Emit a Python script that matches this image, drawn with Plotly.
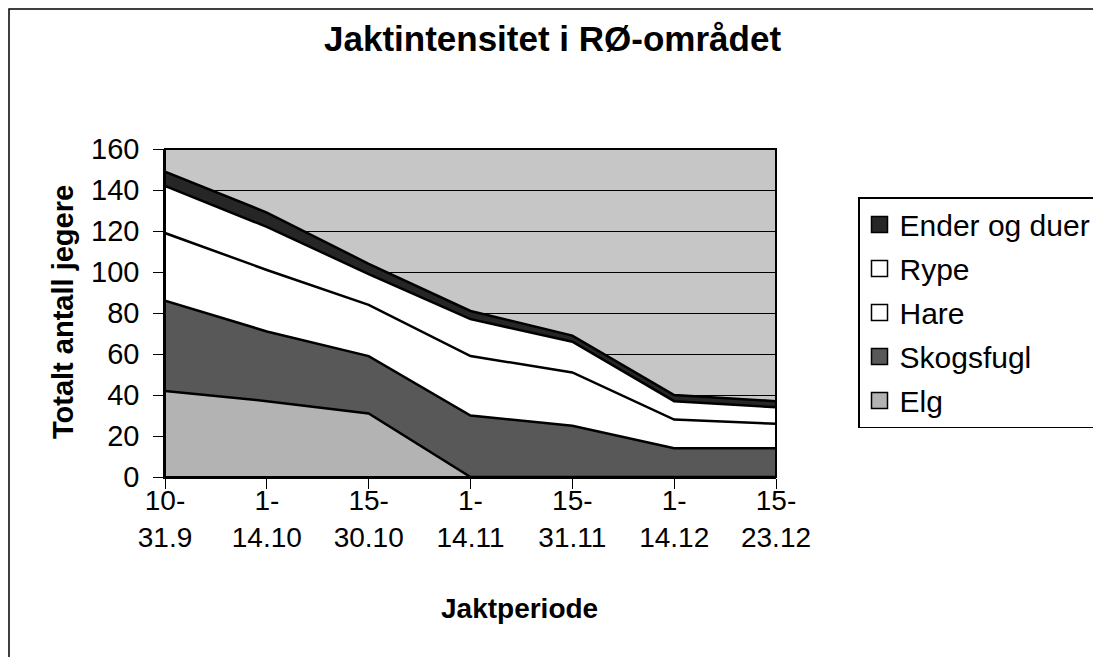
import plotly.graph_objects as go

periods = ["10-<br>31.9", "1-<br>14.10", "15-<br>30.10", "1-<br>14.11",
           "15-<br>31.11", "1-<br>14.12", "15-<br>23.12"]
elg = [42, 37, 31, 0, 0, 0, 0]
skogsfugl = [44, 34, 28, 30, 25, 14, 14]
hare = [33, 30, 25, 29, 26, 14, 12]
rype = [23, 21, 15, 18, 15, 9, 8]
ender_og_duer = [7, 7, 5, 4, 3, 3, 3]

series = [
    ("Elg", elg, "#b3b3b3"),
    ("Skogsfugl", skogsfugl, "#585858"),
    ("Hare", hare, "#ffffff"),
    ("Rype", rype, "#ffffff"),
    ("Ender og duer", ender_og_duer, "#262626"),
]

FONT = "Liberation Sans, Arial, sans-serif"

fig = go.Figure()
for name, vals, col in series:
    fig.add_trace(go.Scatter(
        x=periods, y=vals, name=name, stackgroup="one", mode="lines",
        line=dict(color="black", width=2.5), fillcolor=col,
        showlegend=False, hoverinfo="skip",
    ))

# legend entries: square swatches like the original
n = len(series)
for i, (name, vals, col) in enumerate(series):
    fig.add_trace(go.Scatter(
        x=[None], y=[None], name=name, mode="markers",
        marker=dict(symbol="square", size=16, color=col,
                    line=dict(color="black", width=1.5)),
        legendgroup=name, legendrank=n - i, showlegend=True,
    ))

W, H = 1093, 657
L, R, T, B = 165, 776, 149, 477
def px(x): return (x - L) / (R - L)
def py(y): return (B - y) / (B - T)

fig.update_layout(
    width=W, height=H,
    margin=dict(l=L, r=W - R, t=T, b=H - B, autoexpand=False),
    paper_bgcolor="white",
    plot_bgcolor="#c6c6c6",
    font=dict(family=FONT, size=28, color="black"),
    showlegend=True,
    legend=dict(
        x=px(858), y=py(197), xanchor="left", yanchor="top",
        traceorder="grouped", tracegroupgap=2, itemsizing="trace",
        bordercolor="black", borderwidth=1.5, bgcolor="white",
        font=dict(size=30, family=FONT),
    ),
    xaxis=dict(
        type="category", range=[0, 6], showgrid=False,
        showline=True, linecolor="black", linewidth=1.5,
        ticks="outside", ticklen=10, tickcolor="black",
        tickfont=dict(size=28), ticklabelstandoff=-12,
    ),
    yaxis=dict(
        range=[0, 160], dtick=20, showgrid=True, gridcolor="black", gridwidth=1,
        showline=True, linecolor="black", linewidth=1.5,
        ticks="outside", ticklen=10, tickcolor="black",
        tickfont=dict(size=29), zeroline=False, ticklabelstandoff=8,
    ),
    annotations=[
        dict(text="<b>Jaktintensitet i RØ-området</b>", x=px(552), y=py(39),
             xref="paper", yref="paper", showarrow=False,
             font=dict(size=35, family=FONT), xanchor="center", yanchor="middle"),
        dict(text="<b>Jaktperiode</b>", x=px(519), y=py(608),
             xref="paper", yref="paper", showarrow=False,
             font=dict(size=28, family=FONT), xanchor="center", yanchor="middle"),
        dict(text="<b>Totalt antall jegere</b>", x=px(63), y=py(312),
             xref="paper", yref="paper", showarrow=False, textangle=-90,
             font=dict(size=29, family=FONT), xanchor="center", yanchor="middle"),
    ],
    shapes=[
        dict(type="rect", xref="paper", yref="paper",
             x0=px(9), x1=px(1120), y0=py(9), y1=py(700),
             line=dict(color="black", width=1.5), fillcolor="rgba(0,0,0,0)",
             layer="above"),
        dict(type="rect", xref="paper", yref="paper",
             x0=0, x1=1, y0=0, y1=1,
             line=dict(color="black", width=2), fillcolor="rgba(0,0,0,0)",
             layer="above"),
    ],
)

fig.write_html(
    "out.html",
    config={"displayModeBar": False},
    post_script="document.body.style.margin='0';document.body.style.overflow='hidden';",
)
